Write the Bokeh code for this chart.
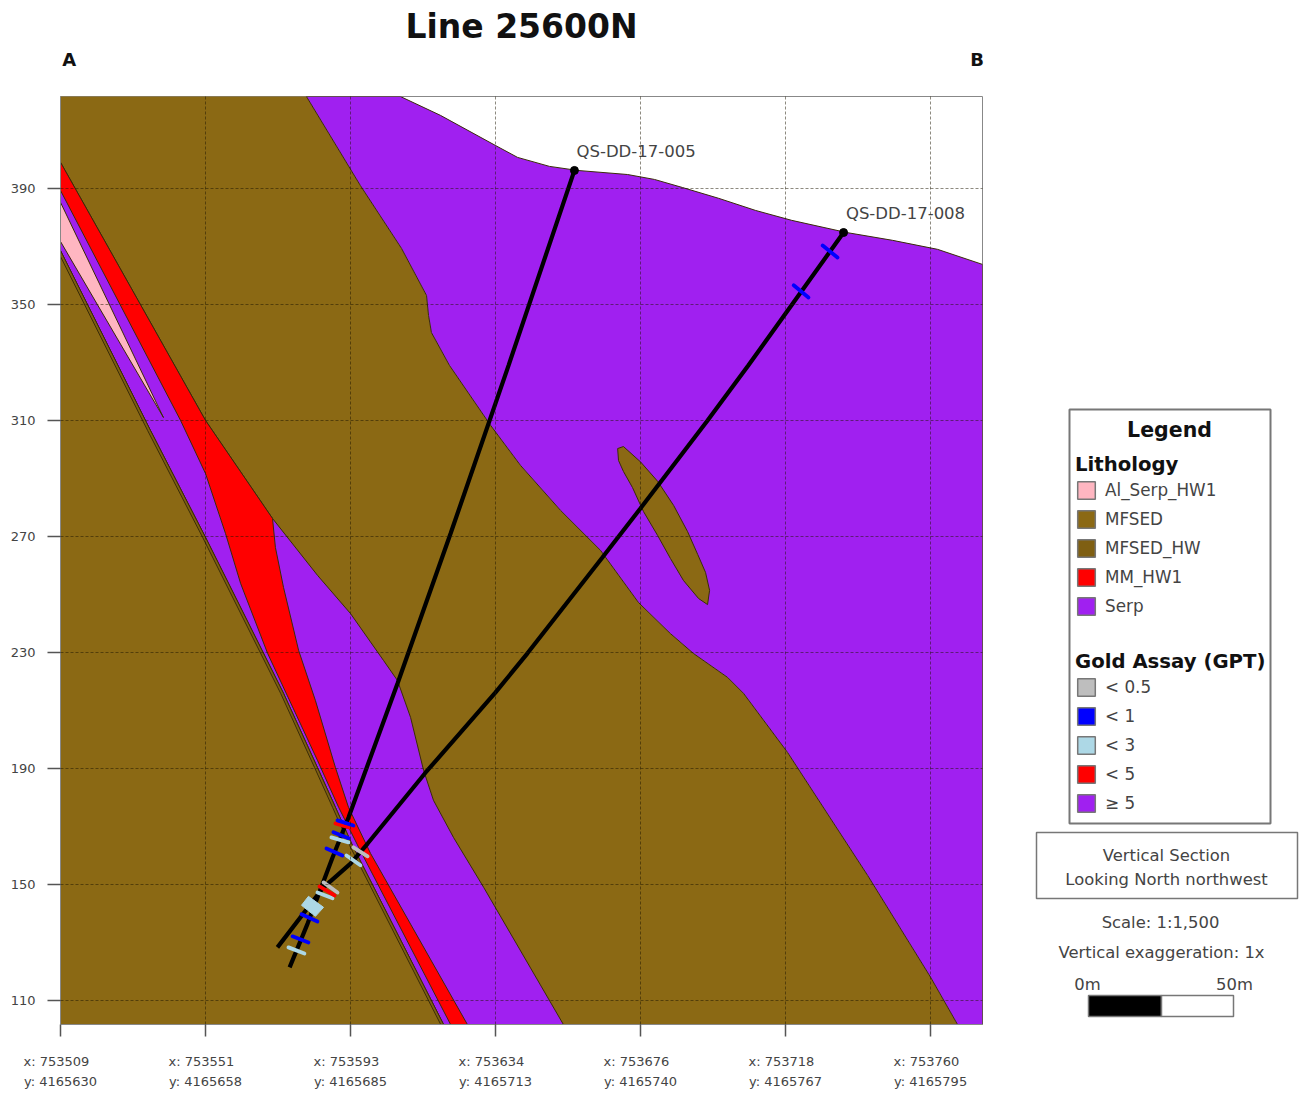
from bokeh.embed import file_html
from bokeh.resources import INLINE
from bokeh.layouts import row
from bokeh.models import (FixedTicker, Legend, LegendItem, LinearAxis, Range1d, Title)
from bokeh.plotting import figure

# ---- section geometry: distance along section (m), elevation (m) ----
X_RANGE = (0.0, 317.9)
Z_RANGE = (101.7, 421.7)
x_ticks = [0, 50, 100, 150, 200, 250, 300]
x_tick_labels = ["x: 753509  \ny: 4165630", "x: 753551  \ny: 4165658", "x: 753593  \ny: 4165685",
                 "x: 753634  \ny: 4165713", "x: 753676  \ny: 4165740", "x: 753718  \ny: 4165767",
                 "x: 753760  \ny: 4165795"]
z_ticks = [110, 150, 190, 230, 270, 310, 350, 390]
end_ticks = [3, 316]
end_labels = ["A", "B"]

terrain_d = [117.2, 131.0, 150.0, 157.6, 168.6, 178.3, 195.5, 204.8, 214.5, 226.9, 239.7, 252.1, 271.0, 286.9, 302.4, 317.9]
terrain_z = [421.7, 415.2, 404.8, 400.7, 397.6, 396.2, 394.8, 393.1, 390.3, 386.6, 382.4, 379.0, 374.8, 372.1, 369.0, 363.8]

contact_d = [84.8, 103.4, 117.6, 126.2, 126.9, 127.9, 134.1, 148.3, 158.6, 172.4, 186.2, 199.3, 210.3, 218.3, 230.0, 235.5, 250.7, 278.3, 300.0, 309.3]
contact_z = [421.7, 391.0, 369.3, 353.1, 346.2, 340.3, 329.0, 308.3, 294.5, 279.0, 265.2, 247.2, 236.5, 229.6, 221.4, 215.9, 195.5, 153.1, 118.0, 101.7]

lens_d = [192.1, 194.1, 200.0, 205.9, 211.4, 216.2, 219.7, 222.4, 223.8, 223.1, 220.0, 214.8, 210.3, 205.9, 201.0, 197.2, 194.1, 192.4]
lens_z = [300.3, 301.0, 295.7, 289.0, 280.7, 271.7, 263.8, 257.6, 251.4, 246.5, 248.6, 254.8, 262.4, 270.3, 278.6, 286.9, 292.4, 296.2]

serp_low_d = [0.0, 50.0, 73.1, 88.6, 100.0, 111.4, 116.2, 120.7, 125.2, 128.6, 135.5, 145.9, 173.4, 132.1, 100.7, 94.8, 88.6, 76.9, 50.0, 31.0, 0.0]
serp_low_z = [399.0, 310.0, 276.2, 256.6, 243.4, 227.2, 220.3, 207.6, 189.3, 179.0, 166.2, 149.0, 101.7, 101.7, 163.4, 176.6, 190.3, 215.9, 269.7, 306.6, 368.6]

hw_d = [0.0, 31.0, 50.0, 76.9, 88.6, 94.8, 100.7, 132.1, 131.1, 99.7, 93.8, 87.6, 75.9, 49.0, 30.0, 0.0]
hw_z = [368.6, 306.6, 269.7, 215.9, 190.3, 176.6, 163.4, 101.7, 101.7, 163.4, 176.6, 190.3, 215.9, 269.7, 306.6, 366.5]

red_d = [0.0, 50.0, 73.1, 74.1, 76.9, 82.1, 87.9, 94.8, 99.3, 106.9, 140.3, 134.5, 102.8, 95.9, 88.6, 71.4, 62.1, 56.9, 50.0, 41.4, 0.0]
red_z = [399.0, 310.0, 276.2, 266.2, 252.4, 230.7, 213.4, 190.3, 176.6, 160.7, 101.7, 101.7, 162.8, 176.6, 192.8, 229.7, 253.8, 271.0, 291.7, 310.0, 389.3]

pink_d = [0.0, 35.5, 0.0]
pink_z = [385.2, 311.0, 371.7]

hole_names = ["QS-DD-17-005", "QS-DD-17-008"]
hole_label_d = [177.9, 270.8]
hole_label_z = [402.7, 381.4]
hole1_d = [177.2, 154.5, 134.5, 116.2, 99.3, 93.8, 85.2, 79.0]
hole1_z = [396.2, 329.0, 271.0, 219.3, 173.1, 159.3, 136.5, 121.4]
hole2_d = [270.0, 255.2, 237.2, 223.1, 200.0, 186.9, 161.0, 150.0, 125.9, 105.9, 100.0, 90.7, 74.8]
hole2_z = [374.8, 354.1, 329.0, 310.0, 279.7, 262.8, 229.7, 216.2, 188.6, 164.1, 157.2, 149.0, 128.3]
collar_d = [177.2, 270.0]
collar_z = [396.2, 374.8]

# assay ticks: start / end of each short mark, and gold grade class
assay_d0 = [94.8, 95.5, 94.1, 93.4, 91.7, 98.6, 101.0, 90.7, 88.6, 89.3, 83.1, 80.0, 78.6, 262.8, 252.8]
assay_z0 = [171.0, 172.1, 168.0, 166.2, 162.4, 160.0, 162.8, 150.7, 147.2, 149.3, 139.7, 132.1, 128.3, 370.3, 356.6]
assay_d1 = [100.7, 101.0, 99.3, 99.3, 97.2, 103.4, 105.9, 95.5, 93.8, 94.5, 88.6, 85.5, 84.1, 267.9, 257.9]
assay_z1 = [169.3, 170.3, 165.9, 164.5, 160.0, 156.6, 159.7, 147.2, 145.2, 146.2, 137.2, 130.0, 126.2, 366.2, 352.4]
assay_grade = ["< 5", "< 1", "< 1", "< 3", "< 1", "< 3", "< 0.5", "< 0.5", "< 3", "< 5", "< 1", "< 1", "< 3", "< 1", "< 1"]
block_d = [85.5, 90.7, 87.9, 83.1]
block_z = [145.9, 142.1, 139.0, 142.8]

lith_labels = ["Al_Serp_HW1", "MFSED", "MFSED_HW", "MM_HW1", "Serp"]
lith_colors = ["#FFB6C1", "#8B6914", "#7F5F12", "#FF0000", "#A020F0"]
gold_labels = ["< 0.5", "< 1", "< 3", "< 5", "\u2265 5"]
gold_colors = ["#BEBEBE", "#0000FF", "#ADD8E6", "#FF0000", "#A020F0"]

side_texts = ["Legend", "Vertical Section", "Looking North northwest", "Scale: 1:1,500",
              "Vertical exaggeration: 1x", "0m", "50m"]

FONT = "DejaVu Sans"
GREY = "#444444"
EDGE = "#3a2c08"
HEIGHT = 1095

# ---- main section ----
p = figure(width=1030, height=HEIGHT, x_range=Range1d(*X_RANGE), y_range=Range1d(*Z_RANGE),
           output_backend="svg", toolbar_location=None, x_axis_location=None, y_axis_location=None,
           min_border_left=60, min_border_right=48, min_border_top=96, min_border_bottom=71,
           background_fill_color="white", border_fill_color="white",
           outline_line_color="#888888", outline_line_width=1)
p.title = Title(text="Line 25600N", align="center", vertical_align="bottom", text_font=FONT,
                text_font_style="bold", text_font_size="33px", text_color="#111111", standoff=0)

xa = LinearAxis(ticker=FixedTicker(ticks=x_ticks),
                major_label_overrides=dict(zip(x_ticks, x_tick_labels)),
                major_label_text_font=FONT, major_label_text_font_size="13px",
                major_label_text_color=GREY, major_label_text_line_height=1.35,
                major_label_standoff=17, major_tick_in=0, major_tick_out=12,
                major_tick_line_color="#555555", major_tick_line_width=1.5,
                axis_line_color="#888888", minor_tick_line_color=None)
ya = LinearAxis(ticker=FixedTicker(ticks=z_ticks),
                major_label_text_font=FONT, major_label_text_font_size="13px",
                major_label_text_color=GREY, major_label_standoff=12,
                major_tick_in=0, major_tick_out=13, major_tick_line_color="#555555",
                major_tick_line_width=1.5, axis_line_color="#888888", minor_tick_line_color=None)
ends = LinearAxis(ticker=FixedTicker(ticks=end_ticks),
                  major_label_overrides=dict(zip(end_ticks, end_labels)),
                  major_label_text_font=FONT, major_label_text_font_style="bold",
                  major_label_text_font_size="18px", major_label_text_color="#111111",
                  major_label_standoff=21, major_tick_line_color=None,
                  minor_tick_line_color=None, axis_line_color=None)
p.add_layout(xa, "below")
p.add_layout(ya, "left")
p.add_layout(ends, "above")

p.xgrid.ticker = FixedTicker(ticks=x_ticks)
p.ygrid.ticker = FixedTicker(ticks=z_ticks)
for g in (p.xgrid, p.ygrid):
    g.level = "guide"
    g.grid_line_color = "#1c1600"
    g.grid_line_alpha = 0.5
    g.grid_line_width = 1
    g.grid_line_dash = "3 2"

d0, d1 = X_RANGE
z0, z1 = Z_RANGE
p.patch([d0] + contact_d + [d0], [z1] + contact_z + [z0],
        fill_color=lith_colors[1], line_color=lith_colors[1], line_width=0.5)
p.patch(terrain_d + [d1] + contact_d[::-1], terrain_z + [z0] + contact_z[::-1],
        fill_color=lith_colors[4], line_color=EDGE, line_width=1)
p.patch(lens_d, lens_z, fill_color=lith_colors[1], line_color=EDGE, line_width=1)
p.patch(serp_low_d, serp_low_z, fill_color=lith_colors[4], line_color=EDGE, line_width=1)
p.patch(hw_d, hw_z, fill_color=lith_colors[2], line_color=EDGE, line_width=1)
p.patch(red_d, red_z, fill_color=lith_colors[3], line_color=EDGE, line_width=1)
p.patch(pink_d, pink_z, fill_color=lith_colors[0], line_color=EDGE, line_width=1)

p.line(hole1_d, hole1_z, line_color="black", line_width=4.2)
p.line(hole2_d, hole2_z, line_color="black", line_width=4.2)
p.scatter(collar_d, collar_z, size=8, color="black")

grade_color = dict(zip(gold_labels, gold_colors))
p.patch(block_d, block_z, fill_color=grade_color["< 3"], line_color=grade_color["< 3"], line_width=1)
p.segment(assay_d0, assay_z0, assay_d1, assay_z1, line_width=3.8, line_cap="round",
          line_color=[grade_color[g] for g in assay_grade])

p.text(hole_label_d, hole_label_z, text=hole_names, text_font={"value": FONT},
       text_font_size="16.5px", text_color=GREY, text_baseline="alphabetic")

# ---- side panel: coordinates are the panel's own layout (page pixels) ----
s = figure(width=278, height=HEIGHT, x_range=Range1d(1030, 1308), y_range=Range1d(1024, 96),
           output_backend="svg", toolbar_location=None, x_axis_location=None, y_axis_location=None,
           min_border_left=0, min_border_right=0, min_border_top=96, min_border_bottom=71,
           outline_line_color=None, background_fill_color="white", border_fill_color="white")
s.xgrid.visible = False
s.ygrid.visible = False

BOX = "#777777"
s.quad(left=[1069], right=[1270], top=[409], bottom=[823], fill_color="white", line_color=BOX, line_width=2)
s.quad(left=[1036], right=[1297], top=[832], bottom=[898], fill_color="white", line_color=BOX, line_width=1.5)
s.quad(left=[1088], right=[1161], top=[995], bottom=[1016], fill_color="black", line_color=BOX, line_width=1.5)
s.quad(left=[1161], right=[1233], top=[995], bottom=[1016], fill_color="white", line_color=BOX, line_width=1.5)

side_x = [1169, 1166, 1166, 1160, 1161, 1087, 1234]
side_y = [429, 855, 879, 922, 952, 984, 984]
side_size = ["20.5px", "16.4px", "16.4px", "16.4px", "16.4px", "16.4px", "16.4px"]
side_style = ["bold", "normal", "normal", "normal", "normal", "normal", "normal"]
side_col = ["#111111"] + [GREY] * 6
s.text(side_x, side_y, text=side_texts, text_font={"value": FONT}, text_align="center",
       text_baseline="middle", text_font_size=side_size, text_font_style=side_style, text_color=side_col)


def swatch_legend(labels, colors, title, y_from_bottom):
    items = []
    for lab, col in zip(labels, colors):
        # legend key only: its box lies left of the panel's visible range
        r = s.quad(left=[0], right=[1], top=[0], bottom=[1], fill_color=col, line_color=BOX, line_width=1.5)
        items.append(LegendItem(label=lab, renderers=[r]))
    lg = Legend(items=items, title=title, location=(45, y_from_bottom), margin=0, padding=0,
                spacing=7, glyph_width=22, glyph_height=22, label_height=22, label_standoff=8,
                label_text_font=FONT, label_text_font_size="16.8px", label_text_color=GREY,
                title_text_font=FONT, title_text_font_size="19.7px", title_text_font_style="bold",
                title_text_color="#111111", title_standoff=3,
                background_fill_alpha=0, border_line_color=None)
    s.add_layout(lg, "center")


swatch_legend(lith_labels, lith_colors, "Lithology", 407)
swatch_legend(gold_labels, gold_colors, "Gold Assay (GPT)", 210)

page = row(p, s)
open("out.html", "w").write(file_html(page, INLINE))
